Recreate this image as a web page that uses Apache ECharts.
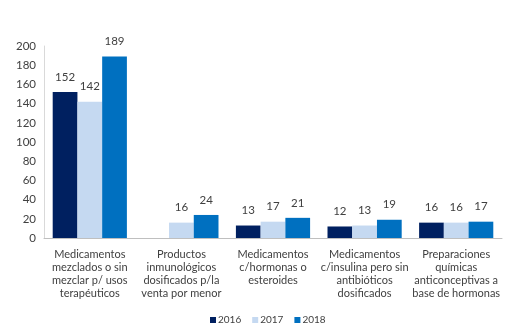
<!DOCTYPE html>
<html><head><meta charset="utf-8">
<script src="https://cdn.jsdelivr.net/npm/echarts@6/dist/echarts.min.js"></script>
<style>html,body{margin:0;padding:0;background:#fff}#c{width:505px;height:325px}</style>
</head><body><div id="c"></div>
<script>
var categories = ["Medicamentos\nmezclados o sin\nmezclar p/ usos\nterapéuticos","Productos\ninmunológicos\ndosificados p/la\nventa por menor","Medicamentos\nc/hormonas o\nesteroides","Medicamentos\nc/insulina pero sin\nantibióticos\ndosificados","Preparaciones\nquímicas\nanticonceptivas a\nbase de hormonas"];
var s2016 = [152, null, 13, 12, 16];
var s2017 = [142, 16, 17, 13, 16];
var s2018 = [189, 24, 21, 19, 17];
var yTicks = [0,20,40,60,80,100,120,140,160,180,200];
var chart = echarts.init(document.getElementById('c'));
var font = 'Lato, "Noto Sans", sans-serif';
function ser(name, data, color){
  return {name:name,type:'bar',data:data,barGap:'0%',barCategoryGap:'19%',
    itemStyle:{color:color},
    label:{show:true,position:'top',distance:9,color:'#404040',fontSize:11.5,fontFamily:font}};
}
chart.setOption({
  animation:false,
  textStyle:{fontFamily:font},
  grid:{left:44,right:3,top:46,bottom:87},
  legend:{top:315,left:210,padding:0,itemWidth:6,itemHeight:6,itemGap:11,icon:'rect',
    textStyle:{color:'#404040',fontSize:10,fontFamily:font,padding:[0,0,0,-3]},data:['2016','2017','2018']},
  xAxis:{type:'category',data:categories,axisTick:{show:false},
    axisLine:{lineStyle:{color:'#bfbfbf'}},
    axisLabel:{interval:0,color:'#404040',fontSize:11,lineHeight:13,margin:10,fontFamily:font}},
  yAxis:{type:'value',min:yTicks[0],max:yTicks[yTicks.length-1],interval:20,
    axisLine:{show:true,lineStyle:{color:'#d9d9d9'}},splitLine:{show:false},axisTick:{show:false},
    axisLabel:{color:'#404040',fontSize:11.5,margin:8,fontFamily:font}},
  series:[ser('2016',s2016,'#002060'),ser('2017',s2017,'#c5d9f1'),ser('2018',s2018,'#0070c0')]
});
</script></body></html>
